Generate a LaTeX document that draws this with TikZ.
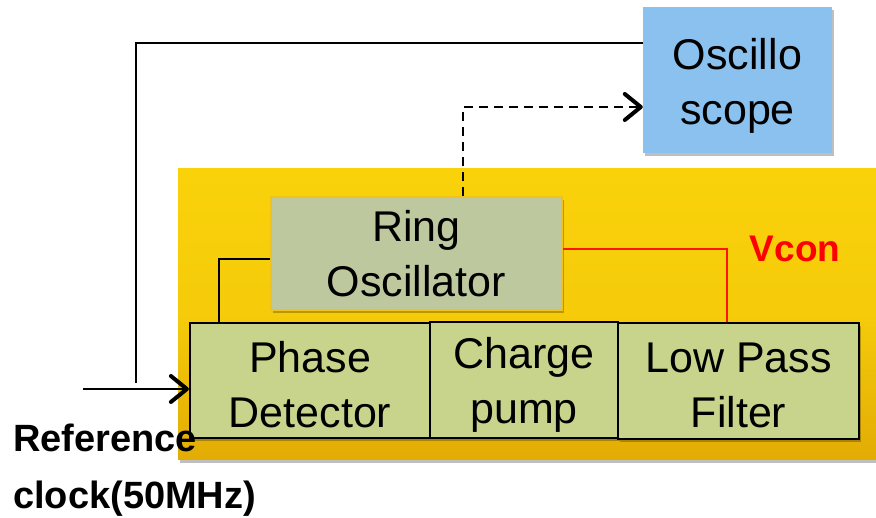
\documentclass[tikz,border=0pt]{standalone}
\usepackage{fontspec}
\setmainfont{Liberation Sans}
\usetikzlibrary{arrows.meta,shadows,calc}
\definecolor{scopeblue}{HTML}{8AC1EE}
\definecolor{ringfill}{HTML}{BEC89E}
\definecolor{blockfill}{HTML}{C8D48B}
\definecolor{ytop}{HTML}{FAD20A}
\definecolor{ymid}{HTML}{F5CB0A}
\definecolor{ybot}{HTML}{E2AC05}
\definecolor{ringedge}{HTML}{F2C21A}
\definecolor{vconred}{HTML}{FF1400}
\tikzset{
  blocktext/.style={font=\fontsize{43}{55}\selectfont, align=center, inner sep=0pt},
  shad/.style={drop shadow={shadow xshift=2pt,shadow yshift=-3pt,opacity=0.25,fill=black}},
  pdbox/.style={draw=black, line width=2.2pt, fill=blockfill, shad},
  wire/.style={line width=2.4pt, black},
  barb/.style={-{Straight Barb[length=16pt,width=26pt,line width=4pt,round]}},
}
\begin{document}
\begin{tikzpicture}[x=1pt,y=-1pt]
\useasboundingbox (0,0) rectangle (876,518);
\fill[white] (0,0) rectangle (876,518);
% big yellow PLL area
\node[shad, top color=ytop, bottom color=ybot, middle color=ymid, minimum width=698pt, minimum height=291pt, inner sep=0pt] (pll) at (527,314.5) {};
% oscilloscope
\node[fill=scopeblue, shad, minimum width=189pt, minimum height=146pt, inner sep=0pt] (osc) at (737.5,80) {};
\node[blocktext] (osctext) at (737.5,86) {Oscillo\\scope};
% ring oscillator
\node[fill=ringfill, draw=ringedge, line width=1.5pt, shad, minimum width=291pt, minimum height=113pt, blocktext] (ring) at (416.5,253.5) {Ring\\Oscillator};
% bottom blocks
\node[pdbox, minimum width=240pt, minimum height=115pt] (pd) at (310,380.5) {};
\node[pdbox, minimum width=188pt, minimum height=116pt] (cp) at (524,380) {};
\node[pdbox, minimum width=241pt, minimum height=116pt] (lpf) at (738.5,381) {};
\node[blocktext] (pdtext) at (310,384.5) {Phase\\Detector};
\node[blocktext] (cptext) at (524,385) {Charge\\pump};
\node[blocktext] (lpftext) at (738.5,385) {Low Pass\\Filter};
% coordinates
\coordinate (fb) at (136,43);
\coordinate (fbend) at (136,383);
\coordinate (refin) at (83,389);
\coordinate (dtop) at (463,107);
\coordinate (c1) at (219,259);
\coordinate (c2) at (727,249);
% connectors
\draw[wire] (fb -| osc.west) -- (fb) -- (fbend);
\draw[wire, barb] (refin) -- (refin -| pd.west);
\draw[wire, barb, dash pattern=on 9pt off 6pt] (ring.north -| dtop) -- (dtop) -- (dtop -| osc.west);
\draw[wire] (c1 -| ring.west) -- (c1) -- (c1 |- pd.north);
\draw[line width=2pt, vconred] (c2 -| ring.east) -- (c2) -- (c2 |- lpf.north);
% labels
\node[font=\fontsize{37}{44}\selectfont\bfseries, text=red, inner sep=0pt] (vcon) at (795,249) {Vcon};
\node[font=\fontsize{38}{46}\selectfont\bfseries, anchor=base west, inner sep=0pt] (ref1) at (13,452) {Reference};
\node[font=\fontsize{38}{46}\selectfont\bfseries, anchor=base west, inner sep=0pt] (ref2) at (13,508) {clock(50MHz)};
\end{tikzpicture}
\end{document}
